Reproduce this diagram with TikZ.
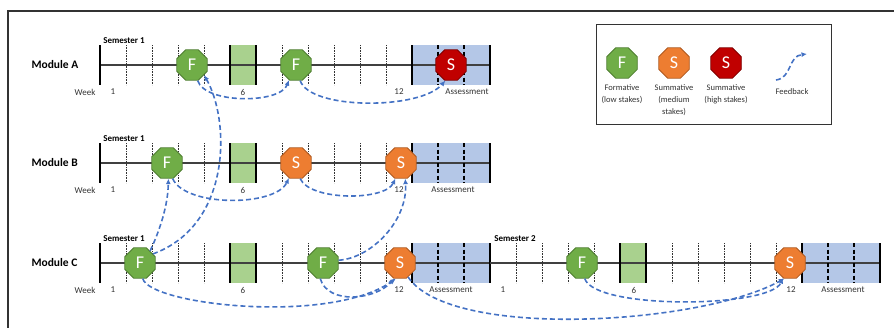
\documentclass[tikz,border=0pt]{standalone}
\usepackage{fontspec}
\setmainfont{Carlito}
\usetikzlibrary{arrows.meta, positioning, shapes.geometric}

\definecolor{fgreen}{HTML}{70AD47}
\definecolor{fgreendk}{HTML}{507E32}
\definecolor{sorange}{HTML}{ED7D31}
\definecolor{sorangedk}{HTML}{AE5A21}
\definecolor{sred}{HTML}{C00000}
\definecolor{sreddk}{HTML}{7F0000}
\definecolor{fbblue}{HTML}{4472C4}
\definecolor{wkgreen}{HTML}{A9D18E}
\definecolor{asblue}{HTML}{B4C7E7}

\begin{document}
\begin{tikzpicture}[
  x=1pt, y=-1pt,
  octa/.style={regular polygon, regular polygon sides=8, minimum size=33pt,
    inner sep=0pt, line width=0.8pt, text=white, font=\fontsize{18}{18}\selectfont},
  formative/.style={octa, fill=fgreen, draw=fgreendk},
  summative/.style={octa, fill=sorange, draw=sorangedk},
  highstakes/.style={octa, fill=sred, draw=sreddk},
  feedback/.style={-{Latex[length=5.5pt,width=5pt]}, line width=1.6pt,
    dash pattern=on 5pt off 3pt, draw=fbblue},
  timeline/.style={line width=1.3pt, black!75},
  weektick/.style={line width=0.6pt, densely dotted, black!80},
  edgetick/.style={line width=1.5pt, black},
  asstick/.style={line width=1.2pt, dash pattern=on 4pt off 2.5pt, black},
  rowlabel/.style={anchor=west, font=\fontsize{11.5}{13}\selectfont\bfseries},
  small/.style={font=\fontsize{9}{11}\selectfont, black!80, inner sep=1pt},
  semlabel/.style={font=\fontsize{9}{11}\selectfont\bfseries, inner sep=1pt},
  legtext/.style={align=center, font=\fontsize{8.5}{12}\selectfont, black!80, inner sep=1pt}
]
\useasboundingbox (0,0) rectangle (894,327);
\clip (0,0) rectangle (894,327);

% outer frame and legend box
\draw[line width=1.2pt, black!80] (8,345) -- (8,11) -- (905,11);
\draw[line width=1pt, black!80] (596,24) rectangle (831,124);

% semester 1 timelines
\foreach \y/\r/\ax in {65/A/467, 163/B/453, 263/C/451} {
  \fill[wkgreen] (230,\y-20) rectangle (256,\y+20);
  \fill[asblue] (412,\y-20) rectangle (490,\y+20);
  \draw[timeline] (100,\y) -- (490,\y);
  \foreach \k in {1,2,3,4,7,8,9,10,11}
    \draw[weektick] (100+26*\k,\y-20) -- (100+26*\k,\y+20);
  \foreach \x in {100,230,256,412,490}
    \draw[edgetick] (\x,\y-20) -- (\x,\y+20);
  \foreach \x in {438,464}
    \draw[asstick] (\x,\y-20) -- (\x,\y+20);
  \node[rowlabel] (mod\r) at (28,\y) {Module \r};
  \node[semlabel] (sem\r) at (124,\y-24.5) {Semester 1};
  \node[small] (week\r) at (85,\y+27) {Week};
  \node[small] (one\r) at (113,\y+27) {1};
  \node[small] (six\r) at (243,\y+27) {6};
  \node[small] (twelve\r) at (399,\y+27) {12};
  \node[small] (assess\r) at (\ax,\y+27) {Assessment};
}

% semester 2 (module C only)
\fill[wkgreen] (620,243) rectangle (646,283);
\fill[asblue] (802,243) rectangle (880,283);
\draw[timeline] (490,263) -- (880,263);
\foreach \k in {1,2,3,4,7,8,9,10,11}
  \draw[weektick] (490+26*\k,243) -- (490+26*\k,283);
\foreach \x in {620,646,802,880}
  \draw[edgetick] (\x,243) -- (\x,283);
\foreach \x in {828,854}
  \draw[asstick] (\x,243) -- (\x,283);
\node[semlabel] (semCtwo) at (515,238.5) {Semester 2};
\node[small] (oneCtwo) at (503,290) {1};
\node[small] (sixCtwo) at (634,290) {6};
\node[small] (twelveCtwo) at (791,290) {12};
\node[small] (assessCtwo) at (843,290) {Assessment};

% assessments
\node[formative] (fA1) at (192,65) {F};
\node[formative] (fA2) at (296,65) {F};
\node[highstakes] (sA) at (451,65) {S};

\node[formative] (fB) at (167,163) {F};
\node[summative] (sB1) at (296,163) {S};
\node[summative] (sB2) at (401,163) {S};

\node[formative] (fC1) at (140,263) {F};
\node[formative] (fC2) at (323,263) {F};
\node[summative] (sC1) at (400,263) {S};
\node[formative] (fC3) at (582,263) {F};
\node[summative] (sC2) at (790,263) {S};

% feedback
\draw[feedback] (fA1.-70) .. controls (205,104) and (280,104) .. (fA2.-115);
\draw[feedback] (fA2.-75) .. controls (310,110) and (420,110) .. (sA.-110);
\draw[feedback] (fB.-70) .. controls (185,207) and (275,207) .. (sB1.-115);
\draw[feedback] (sB1.-75) .. controls (310,201) and (385,201) .. (sB2.-110);
\draw[feedback] (fC1.35) .. controls (232,225) and (230,120) .. (fA1.-40);
\draw[feedback] (fC1.50) .. controls (160,230) and (168,205) .. (fB.-85);
\draw[feedback] (fC2.10) .. controls (372,258) and (408,220) .. (sB2.-75);
\draw[feedback] (fC1.-80) .. controls (150,305) and (330,325) .. (sC1.-105);
\draw[feedback] (fC2.-100) .. controls (328,305) and (375,300) .. (sC1.-110);
\draw[feedback] (sC1.-60) .. controls (450,340) and (700,325) .. (sC2.-110);
\draw[feedback] (fC3.-80) .. controls (595,310) and (770,308) .. (sC2.-115);

% legend
\node[formative] (legF) at (622,63) {F};
\node[summative] (legSm) at (674,63) {S};
\node[highstakes] (legSh) at (726,63) {S};
\node[legtext, below=5pt of legF] (legFtext) {Formative\\(low stakes)};
\node[legtext, below=5pt of legSm] (legSmtext) {Summative\\(medium\\stakes)};
\node[legtext, below=5pt of legSh] (legShtext) {Summative\\(high stakes)};
\coordinate (fbstart) at (776,80);
\coordinate (fbend) at (807,54);
\draw[feedback] (fbstart) .. controls (792,78) and (788,56) .. (fbend);
\node[legtext] (legFbtext) at (792,92) {Feedback};
\end{tikzpicture}
\end{document}
